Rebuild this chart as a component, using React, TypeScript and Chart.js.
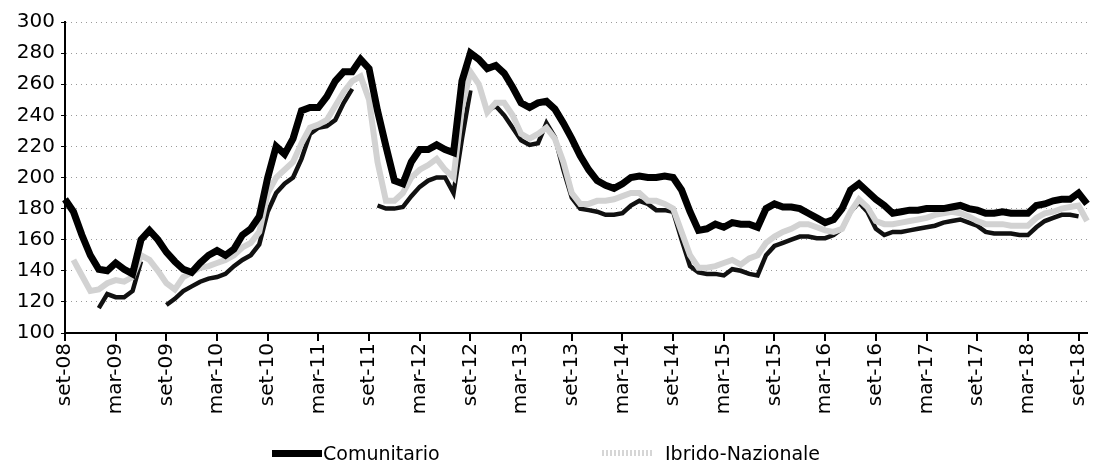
import React, { useEffect, useRef } from "react";
import { Chart, registerables } from "chart.js";

Chart.register(...registerables);

const MONTHS = ["gen", "feb", "mar", "apr", "mag", "giu", "lug", "ago", "set", "ott", "nov", "dic"];
const START_MONTH = 8; // set
const START_YEAR = 2008;
const N_POINTS = 122; // set-08 .. ott-18

const categories: string[] = [];
for (let i = 0; i < N_POINTS; i++) {
  const m = (START_MONTH + i) % 12;
  const y = START_YEAR + Math.floor((START_MONTH + i) / 12);
  categories.push(MONTHS[m] + "-" + String(y % 100).padStart(2, "0"));
}

const comunitario = [
  186, 178, 163, 150, 141, 140, 145, 141, 138, 160, 166, 160,
  152, 146, 141, 139, 145, 150, 153, 150, 154, 163, 167, 175,
  200, 220, 215, 225, 243, 245, 245, 252, 262, 268, 268, 276,
  270, 243, 220, 198, 196, 210, 218, 218, 221, 218, 216, 262,
  280, 276, 270, 272, 267, 258, 248, 245, 248, 249, 244, 235,
  225, 214, 205, 198, 195, 193, 196, 200, 201, 200, 200, 201,
  200, 192, 178, 166, 167, 170, 168, 171, 170, 170, 168, 180,
  183, 181, 181, 180, 177, 174, 171, 173, 180, 192, 196, 191,
  186, 182, 177, 178, 179, 179, 180, 180, 180, 181, 182, 180,
  179, 177, 177, 178, 177, 177, 177, 182, 183, 185, 186, 186,
  190, 183,
];

const ibridoNazionale = [
  null, 147, 137, 127, 128, 132, 134, 133, 136, 150, 147, 140,
  132, 128, 136, 139, 142, 143, 145, 147, 150, 155, 158, 165,
  190, 200, 205, 210, 222, 232, 234, 237, 246, 255, 262, 265,
  250, 210, 185, 185, 190, 200, 205, 208, 212, 205, 200, 245,
  268, 260, 242, 248, 248, 240, 228, 225, 228, 232, 225, 210,
  190, 183, 183, 185, 185, 186, 188, 190, 190, 185, 185, 183,
  180, 165, 150, 142, 142, 143, 145, 147, 144, 148, 150, 158,
  162, 165, 167, 170, 170, 168, 166, 165, 167, 178, 186, 181,
  172, 170, 170, 171, 172, 173, 174, 176, 177, 178, 177, 175,
  172, 170, 170, 170, 169, 169, 169, 174, 177, 178, 180, 181,
  182, 172,
];

const terzaSerie = [
  null, null, null, null, 116, 125, 123, 123, 127, 146, null, null,
  118, 122, 127, 130, 133, 135, 136, 138, 143, 147, 150, 157,
  178, 190, 196, 200, 212, 228, 232, 233, 237, 248, 257, null,
  null, 182, 180, 180, 181, 188, 194, 198, 200, 200, 190, 225,
  256, null, 243, 246, 240, 232, 224, 221, 222, 235, 226, 205,
  187, 180, 179, 178, 176, 176, 177, 182, 185, 183, 179, 179,
  178, 160, 143, 139, 138, 138, 137, 141, 140, 138, 137, 150,
  156, 158, 160, 162, 162, 161, 161, 163, 167, 178, 184, 178,
  167, 163, 165, 165, 166, 167, 168, 169, 171, 172, 173, 171,
  169, 165, 164, 164, 164, 163, 163, 168, 172, 174, 176, 176,
  175, null,
];

const Y_MIN = 100;
const Y_MAX = 300;
const Y_STEP = 20;
const TICK_EVERY = 6;

const FONT = "'DejaVu Sans', sans-serif";

export default function App() {
  const canvasRef = useRef<HTMLCanvasElement | null>(null);

  useEffect(() => {
    const canvas = canvasRef.current;
    if (!canvas) return;
    const chart = new Chart(canvas, {
      type: "line",
      data: {
        labels: categories,
        datasets: [
          {
            label: "Comunitario",
            data: comunitario,
            borderColor: "#000000",
            borderWidth: 7,
            pointRadius: 0,
            tension: 0,
            order: 0,
          },
          {
            label: "Ibrido-Nazionale",
            data: ibridoNazionale as (number | null)[],
            borderColor: "#d2d2d2",
            borderWidth: 6,
            pointRadius: 0,
            tension: 0,
            order: 1,
          },
          {
            label: "",
            data: terzaSerie as (number | null)[],
            borderColor: "#111111",
            borderWidth: 4.5,
            pointRadius: 0,
            tension: 0,
            spanGaps: false,
            order: 2,
          },
        ],
      },
      options: {
        animation: false,
        responsive: true,
        maintainAspectRatio: false,
        layout: { padding: { left: 0, right: 11, top: 22, bottom: 42 } },
        plugins: {
          legend: { display: false },
          tooltip: { enabled: false },
        },
        scales: {
          x: {
            type: "category",
            offset: false,
            border: { display: true, color: "#000", width: 2 },
            grid: {
              display: true,
              drawOnChartArea: false,
              drawTicks: true,
              tickLength: 8,
              lineWidth: 2,
              color: (ctx: any) => (ctx.index % TICK_EVERY === 0 ? "#000" : "rgba(0,0,0,0)"),
            },
            ticks: {
              autoSkip: false,
              maxRotation: 90,
              minRotation: 90,
              padding: 2,
              color: "#000",
              font: { family: FONT, size: 20 },
              callback: (_v: any, i: number) => (i % TICK_EVERY === 0 ? categories[i] : ""),
            },
            afterFit: (scale: any) => {
              scale.height = 100;
            },
          },
          y: {
            min: Y_MIN,
            max: Y_MAX,
            border: { display: true, color: "#000", width: 2, dash: [1, 4] },
            grid: {
              color: "#9a9a9a",
              lineWidth: 1,
              drawTicks: true,
              tickLength: 4,
              tickColor: "#000",
              tickBorderDash: [],
            },
            ticks: {
              stepSize: Y_STEP,
              color: "#000",
              padding: 6,
              font: { family: FONT, size: 20 },
            },
            afterFit: (scale: any) => {
              scale.width = 65;
            },
          },
        },
      },
    } as any);
    return () => chart.destroy();
  }, []);

  const legendText: React.CSSProperties = {
    position: "absolute",
    top: 441,
    fontFamily: FONT,
    fontSize: 19,
    lineHeight: "24px",
    color: "#000",
    whiteSpace: "nowrap",
  };

  return (
    <div style={{ position: "fixed", left: 0, top: 0, width: 1113, height: 475, background: "#fff" }}>
      <canvas ref={canvasRef} />
      <div style={{ position: "absolute", left: 272, top: 450, width: 50, height: 7, background: "#000" }} />
      <div style={{ ...legendText, left: 323 }}>Comunitario</div>
      <div
        style={{
          position: "absolute",
          left: 602,
          top: 450,
          width: 52,
          height: 6,
          backgroundImage: "repeating-linear-gradient(90deg, #d6d6d6 0 2px, transparent 2px 4px)",
        }}
      />
      <div style={{ ...legendText, left: 665 }}>Ibrido-Nazionale</div>
    </div>
  );
}
